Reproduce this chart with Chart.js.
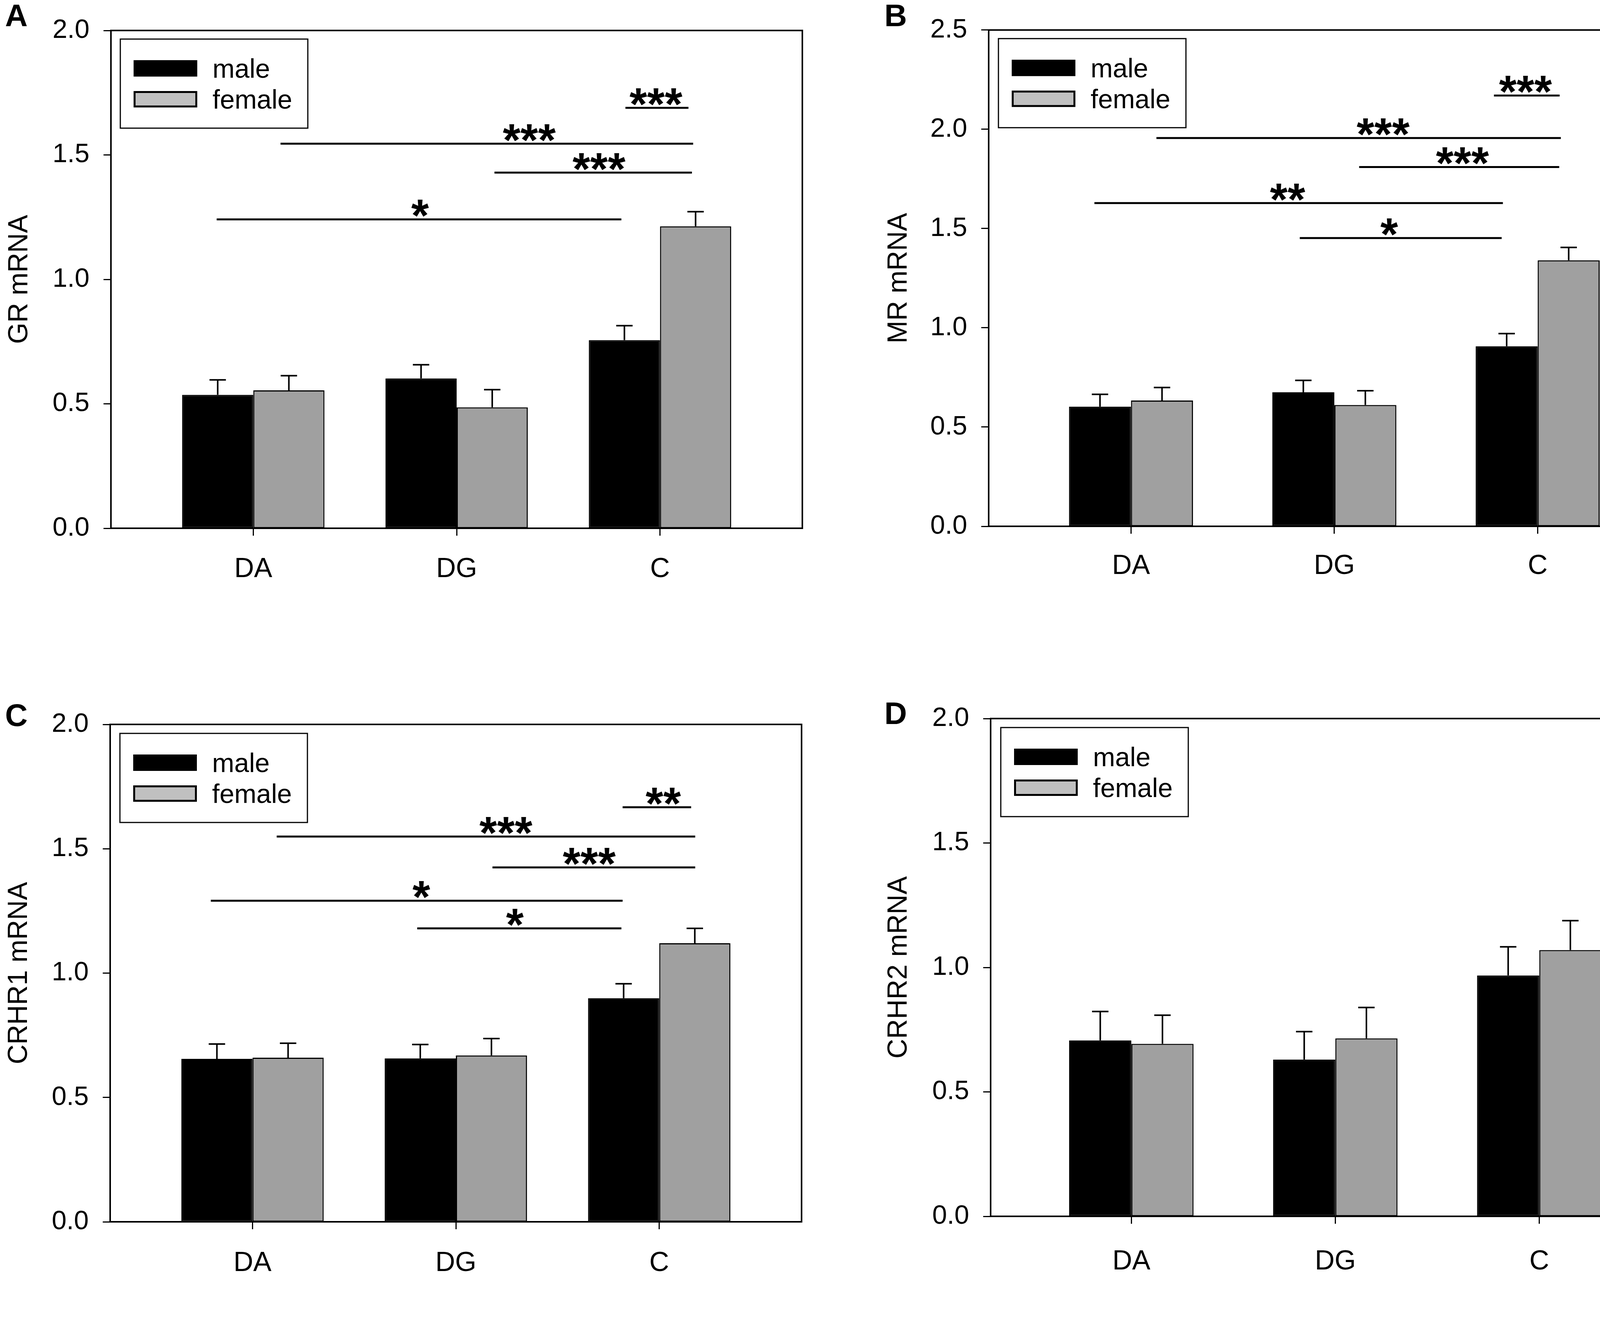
<!DOCTYPE html>
<html>
<head>
<meta charset="utf-8">
<script src="https://cdn.jsdelivr.net/npm/chart.js@4.4.1/dist/chart.umd.min.js"></script>
<style>
  html, body { margin: 0; padding: 0; background: #fff; overflow: hidden; }
  #page { position: relative; width: 4317px; height: 3386px; background: #fff; }
  canvas { position: absolute; }
</style>
</head>
<body>
<div id="page">
  <canvas id="panelA" width="2158" height="1693" style="left:0;top:0"></canvas>
  <canvas id="panelB" width="2159" height="1693" style="left:2158px;top:0"></canvas>
  <canvas id="panelC" width="2158" height="1693" style="left:0;top:1693px"></canvas>
  <canvas id="panelD" width="2159" height="1693" style="left:2158px;top:1693px"></canvas>
</div>
<script>
/* --------------- Data --------------------- */
const categories = ["DA", "DG", "C"];
const seriesNames = ["male", "female"];

// A: GR
const grMale = [0.536, 0.602, 0.756];
const grFemale = [0.554, 0.486, 1.213];
const grMaleErr = [0.060, 0.055, 0.058];
const grFemaleErr = [0.059, 0.071, 0.059];
const grSigFrom = [1.83, 0.134, 1.186, -0.18];
const grSigTo = [2.14, 2.163, 2.157, 1.81];
const grSigY = [1.689, 1.545, 1.429, 1.241];
const grSigText = ["***", "***", "***", "*"];
const grSigTextX = [1.98, 1.357, 1.70, 0.82];

// B: MR
const mrMale = [0.603, 0.675, 0.907];
const mrFemale = [0.634, 0.611, 1.340];
const mrMaleErr = [0.062, 0.060, 0.064];
const mrFemaleErr = [0.065, 0.072, 0.065];
const mrSigFrom = [1.785, 0.125, 1.122, -0.18, 0.83];
const mrSigTo = [2.108, 2.114, 2.106, 1.829, 1.823];
const mrSigY = [2.17, 1.956, 1.81, 1.628, 1.452];
const mrSigText = ["***", "***", "***", "**", "*"];
const mrSigTextX = [1.94, 1.24, 1.63, 0.77, 1.27];

// C: CRHR1
const crhr1Male = [0.655, 0.657, 0.899];
const crhr1Female = [0.660, 0.669, 1.120];
const crhr1MaleErr = [0.060, 0.056, 0.058];
const crhr1FemaleErr = [0.058, 0.068, 0.060];
const crhr1SigFrom = [1.82, 0.119, 1.18, -0.205, 0.81];
const crhr1SigTo = [2.157, 2.177, 2.177, 1.82, 1.814];
const crhr1SigY = [1.667, 1.549, 1.425, 1.291, 1.18];
const crhr1SigText = ["**", "***", "***", "*", "*"];
const crhr1SigTextX = [2.02, 1.246, 1.656, 0.83, 1.29];

// D: CRHR2
const crhr2Male = [0.707, 0.630, 0.968];
const crhr2Female = [0.693, 0.715, 1.070];
const crhr2MaleErr = [0.116, 0.112, 0.115];
const crhr2FemaleErr = [0.115, 0.124, 0.118];

/* --------------- Drawing helpers --------------------- */
const FONT = "'Liberation Sans', Arial, sans-serif";

const panelPlugin = {
  id: "panelExtras",
  afterDatasetsDraw(chart) {
    const ctx = chart.ctx;
    const yScale = chart.scales.y;
    // error bars (upper only)
    ctx.save();
    ctx.strokeStyle = "#000";
    ctx.lineWidth = 4;
    chart.data.datasets.forEach((ds, di) => {
      const meta = chart.getDatasetMeta(di);
      meta.data.forEach((bar, i) => {
        const v = ds.data[i].y;
        const yTop = yScale.getPixelForValue(v + ds.err[i]);
        const yBar = yScale.getPixelForValue(v);
        ctx.beginPath();
        ctx.moveTo(bar.x, yBar);
        ctx.lineTo(bar.x, yTop);
        ctx.moveTo(bar.x - 21, yTop);
        ctx.lineTo(bar.x + 21, yTop);
        ctx.stroke();
      });
    });
    ctx.restore();
  },
  afterDraw(chart) {
    const ctx = chart.ctx;
    const p = chart.options.plugins.panelExtras;
    const area = chart.chartArea;
    const xs = chart.scales.x, ys = chart.scales.y;
    ctx.save();
    // frame
    ctx.strokeStyle = "#000";
    ctx.lineWidth = 4;
    ctx.strokeRect(area.left, area.top, area.right - area.left, area.bottom - area.top);

    // significance lines
    ctx.lineWidth = 5;
    ctx.fillStyle = "#000";
    ctx.font = "bold 116px " + FONT;
    ctx.textAlign = "center";
    ctx.textBaseline = "alphabetic";
    (p.sigFrom || []).forEach((f, i) => {
      const y = ys.getPixelForValue(p.sigY[i]);
      ctx.beginPath();
      ctx.moveTo(xs.getPixelForValue(f), y);
      ctx.lineTo(xs.getPixelForValue(p.sigTo[i]), y);
      ctx.stroke();
      const m = ctx.measureText(p.sigText[i]);
      ctx.fillText(p.sigText[i], xs.getPixelForValue(p.sigTextX[i]), y - 6 - m.actualBoundingBoxDescent);
    });

    // legend box
    const lx = area.left + p.legendDX, ly = area.top + p.legendDY;
    ctx.lineWidth = 3;
    ctx.strokeRect(lx, ly, 480, 228);
    const swatchY = [54, 133];
    ctx.font = "68px " + FONT;
    ctx.textAlign = "left";
    chart.data.datasets.forEach((ds, di) => {
      ctx.fillStyle = "#000";
      ctx.fillRect(lx + 34, ly + swatchY[di], 163, 42);
      if (di === 1) {
        ctx.fillStyle = "#c0c0c0";
        ctx.fillRect(lx + 39, ly + swatchY[di] + 5, 153, 32);
      }
      ctx.fillStyle = "#000";
      ctx.fillText(ds.label, lx + 236, ly + swatchY[di] + 45);
    });

    // panel letter
    ctx.font = "bold 80px " + FONT;
    ctx.fillText(p.letter, p.letterX, p.letterY);
    ctx.restore();
  }
};

function makePanel(id, p) {
  const toPts = arr => arr.map((v, i) => ({ x: i, y: v }));
  return new Chart(document.getElementById(id), {
    type: "bar",
    data: {
      datasets: [
        { label: seriesNames[0], data: toPts(p.male), err: p.maleErr,
          backgroundColor: "#000000", borderColor: "#000000", borderWidth: 3, borderSkipped: false },
        { label: seriesNames[1], data: toPts(p.female), err: p.femaleErr,
          backgroundColor: "#a0a0a0", borderColor: "#000000", borderWidth: 3, borderSkipped: false },
      ],
    },
    options: {
      responsive: false,
      animation: false,
      devicePixelRatio: 1,
      layout: { padding: { top: p.top, right: p.right, left: 0, bottom: 0 } },
      datasets: { bar: { categoryPercentage: p.catPct, barPercentage: 1.0 } },
      plugins: {
        legend: { display: false },
        tooltip: { enabled: false },
        panelExtras: p,
      },
      scales: {
        x: {
          type: "linear",
          offset: false,
          min: p.xMin,
          max: p.xMax,
          afterBuildTicks: s => { s.ticks = categories.map((c, i) => ({ value: i })); },
          afterFit: s => { s.height = p.xHeight; },
          ticks: {
            callback: v => categories[v],
            font: { family: FONT, size: 70 },
            color: "#000",
            padding: p.xPad,
            maxRotation: 0,
            autoSkip: false,
          },
          grid: { offset: false, drawOnChartArea: false, tickLength: 19, tickWidth: 3, tickColor: "#000" },
          border: { color: "#000", width: 4 },
        },
        y: {
          min: 0,
          max: p.yMax,
          ticks: {
            stepSize: 0.5,
            callback: v => v.toFixed(1),
            font: { family: FONT, size: 68 },
            color: "#000",
            padding: 36,
          },
          afterFit: s => { s.width = p.yWidth; },
          grid: { drawOnChartArea: false, tickLength: 19, tickWidth: 3, tickColor: "#000" },
          border: { color: "#000", width: 4 },
          title: {
            display: true,
            text: p.title,
            color: "#000",
            font: { family: FONT, size: 70 },
            padding: { top: p.titlePad, bottom: 0 },
          },
        },
      },
    },
    plugins: [panelPlugin],
  });
}

makePanel("panelA", {
  male: grMale, female: grFemale, maleErr: grMaleErr, femaleErr: grFemaleErr,
  sigFrom: grSigFrom, sigTo: grSigTo, sigY: grSigY, sigText: grSigText, sigTextX: grSigTextX,
  title: "GR mRNA", letter: "A", letterX: 13, letterY: 67,
  yMax: 2.0, xMin: -0.70, xMax: 2.70, catPct: 0.70,
  top: 78, right: 104, yWidth: 284, xHeight: 341, xPad: 45, titlePad: 9,
  legendDX: 24, legendDY: 22,
});
makePanel("panelB", {
  male: mrMale, female: mrFemale, maleErr: mrMaleErr, femaleErr: mrFemaleErr,
  sigFrom: mrSigFrom, sigTo: mrSigTo, sigY: mrSigY, sigText: mrSigText, sigTextX: mrSigTextX,
  title: "MR mRNA", letter: "B", letterX: 106, letterY: 67,
  yMax: 2.5, xMin: -0.70, xMax: 2.71, catPct: 0.61,
  top: 73, right: 11, yWidth: 373, xHeight: 346, xPad: 42, titlePad: 102,
  legendDX: 25, legendDY: 22,
});
makePanel("panelC", {
  male: crhr1Male, female: crhr1Female, maleErr: crhr1MaleErr, femaleErr: crhr1FemaleErr,
  sigFrom: crhr1SigFrom, sigTo: crhr1SigTo, sigY: crhr1SigY, sigText: crhr1SigText, sigTextX: crhr1SigTextX,
  title: "CRHR1 mRNA", letter: "C", letterX: 13, letterY: 165,
  yMax: 2.0, xMin: -0.70, xMax: 2.70, catPct: 0.70,
  top: 161, right: 106, yWidth: 282, xHeight: 259, xPad: 46, titlePad: 8,
  legendDX: 25, legendDY: 23,
});
makePanel("panelD", {
  male: crhr2Male, female: crhr2Female, maleErr: crhr2MaleErr, femaleErr: crhr2FemaleErr,
  title: "CRHR2 mRNA", letter: "D", letterX: 106, letterY: 160,
  yMax: 2.0, xMin: -0.69, xMax: 2.70, catPct: 0.61,
  top: 146, right: 11, yWidth: 378, xHeight: 273, xPad: 56, titlePad: 102,
  legendDX: 26, legendDY: 23,
});
</script>
</body>
</html>
